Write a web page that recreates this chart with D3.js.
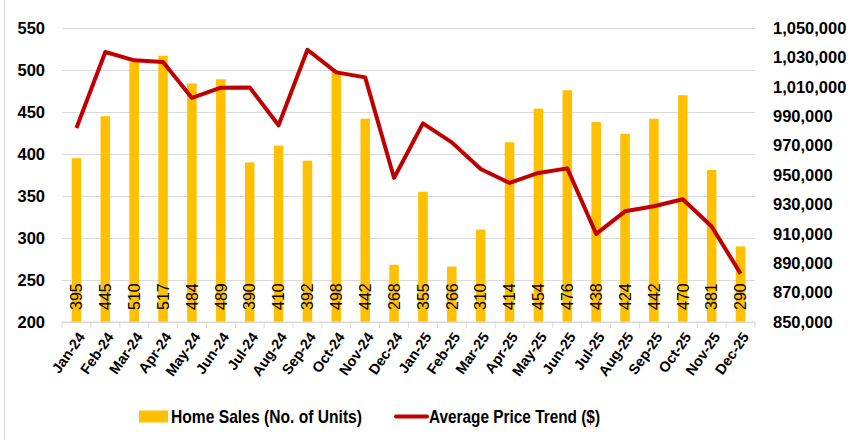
<!DOCTYPE html>
<html>
<head>
<meta charset="utf-8">
<script src="https://cdn.jsdelivr.net/npm/d3@7"></script>
<style>
  body { margin: 0; background: #fff; }
  text { font-family: "Liberation Sans", Arial, sans-serif; }
</style>
</head>
<body>
<div id="vis"></div>
<script>
// data
const months = ["Jan-24","Feb-24","Mar-24","Apr-24","May-24","Jun-24","Jul-24","Aug-24","Sep-24","Oct-24","Nov-24","Dec-24",
                "Jan-25","Feb-25","Mar-25","Apr-25","May-25","Jun-25","Jul-25","Aug-25","Sep-25","Oct-25","Nov-25","Dec-25"];
const homeSales = [395,445,510,517,484,489,390,410,392,498,442,268,355,266,310,414,454,476,438,424,442,470,381,290];
const avgPrice = [982000,1033700,1028000,1026900,1002400,1009400,1009600,983800,1035200,1019800,1016400,948000,
                  985100,972200,954100,944600,951400,954500,909900,925300,928700,933500,915000,882900];
const salesTicks = [200,250,300,350,400,450,500,550];
const priceTicks = [850000,870000,890000,910000,930000,950000,970000,990000,1010000,1030000,1050000];

const W = 851, H = 443;
const margin = { top: 28, left: 62, right: 96, bottom: 121 };
const width = W - margin.left - margin.right,
      height = H - margin.top - margin.bottom;

const svg = d3.select('#vis')
  .append('svg')
  .attr('width', W)
  .attr('height', H);

// chart area border (only the left edge shows in the crop)
svg.append('line')
  .attr('x1', 4.5).attr('x2', 4.5)
  .attr('y1', 0).attr('y2', 440)
  .attr('stroke', '#d9d9d9');

const g = svg.append('g')
  .attr('transform', `translate(${margin.left},${margin.top})`);

const x = d3.scaleBand()
  .domain(months)
  .range([0, width])
  .paddingInner(0.67)
  .paddingOuter(0.335);

const y = d3.scaleLinear().domain([200, 550]).range([height, 0]);
const y2 = d3.scaleLinear().domain([850000, 1050000]).range([height, 0]);

// gridlines
g.append('g')
  .call(d3.axisLeft(y).tickValues(salesTicks).tickSize(-width).tickFormat(''))
  .call(a => a.select('.domain').remove())
  .call(a => a.selectAll('line').attr('stroke', '#d9d9d9'));

// left axis labels
g.append('g')
  .call(d3.axisLeft(y).tickValues(salesTicks).tickSize(0).tickPadding(17))
  .call(a => a.select('.domain').remove())
  .call(a => a.selectAll('text')
    .style('font-size', '16.5px')
    .style('font-weight', 'bold')
    .attr('fill', '#000'));

// right axis labels
g.append('g')
  .attr('transform', `translate(${width},0)`)
  .call(d3.axisRight(y2).tickValues(priceTicks).tickSize(0).tickPadding(18).tickFormat(d3.format(',')))
  .call(a => a.select('.domain').remove())
  .call(a => a.selectAll('text')
    .style('font-size', '16.5px')
    .style('font-weight', 'bold')
    .attr('fill', '#000'));

// bars
g.selectAll('.bar')
  .data(homeSales)
  .enter()
  .append('rect')
    .attr('class', 'bar')
    .attr('x', (d, i) => x(months[i]))
    .attr('y', d => y(d))
    .attr('width', x.bandwidth())
    .attr('height', d => height - y(d))
    .attr('fill', '#ffc000');

// bottom axis with ticks between categories
const xAxis = g.append('g').attr('transform', `translate(0,${height})`);
xAxis.append('line')
  .attr('x1', 0).attr('x2', width)
  .attr('stroke', '#d9d9d9');
xAxis.selectAll('.tk')
  .data(d3.range(months.length + 1))
  .enter()
  .append('line')
    .attr('x1', i => i * x.step()).attr('x2', i => i * x.step())
    .attr('y1', 0).attr('y2', 6)
    .attr('stroke', '#d9d9d9');

xAxis.selectAll('.lbl')
  .data(months)
  .enter()
  .append('text')
    .attr('transform', d => `translate(${x(d) + x.bandwidth() / 2 + 5},${12}) rotate(-55)`)
    .attr('text-anchor', 'end')
    .attr('dy', '0.35em')
    .style('font-size', '14.5px')
    .style('font-weight', 'bold')
    .text(d => d);

// bar value labels
g.selectAll('.val')
  .data(homeSales)
  .enter()
  .append('text')
    .attr('transform', (d, i) => `translate(${x(months[i]) + x.bandwidth() / 2},${height - 12}) rotate(-90)`)
    .attr('text-anchor', 'start')
    .attr('dy', '0.36em')
    .style('font-size', '16px')
    .text(d => d);

// price line
const priceLine = d3.line()
  .x((d, i) => x(months[i]) + x.bandwidth() / 2)
  .y(d => y2(d));

g.append('path')
  .datum(avgPrice)
  .attr('fill', 'none')
  .attr('stroke', '#c00000')
  .attr('stroke-width', 4)
  .attr('stroke-linejoin', 'round')
  .attr('d', priceLine);

// legend
const legend = svg.append('g');
legend.append('rect')
  .attr('x', 139).attr('y', 410.5)
  .attr('width', 29).attr('height', 12)
  .attr('fill', '#ffc000');
legend.append('text')
  .attr('x', 171).attr('y', 423)
  .attr('textLength', 191).attr('lengthAdjust', 'spacingAndGlyphs')
  .style('font-size', '19px').style('font-weight', 'bold')
  .text('Home Sales (No. of Units)');
legend.append('line')
  .attr('x1', 396).attr('x2', 427)
  .attr('y1', 416.5).attr('y2', 416.5)
  .attr('stroke', '#c00000').attr('stroke-width', 4)
  .attr('stroke-linecap', 'round');
legend.append('text')
  .attr('x', 429).attr('y', 423)
  .attr('textLength', 171).attr('lengthAdjust', 'spacingAndGlyphs')
  .style('font-size', '19px').style('font-weight', 'bold')
  .text('Average Price Trend ($)');
</script>
</body>
</html>
